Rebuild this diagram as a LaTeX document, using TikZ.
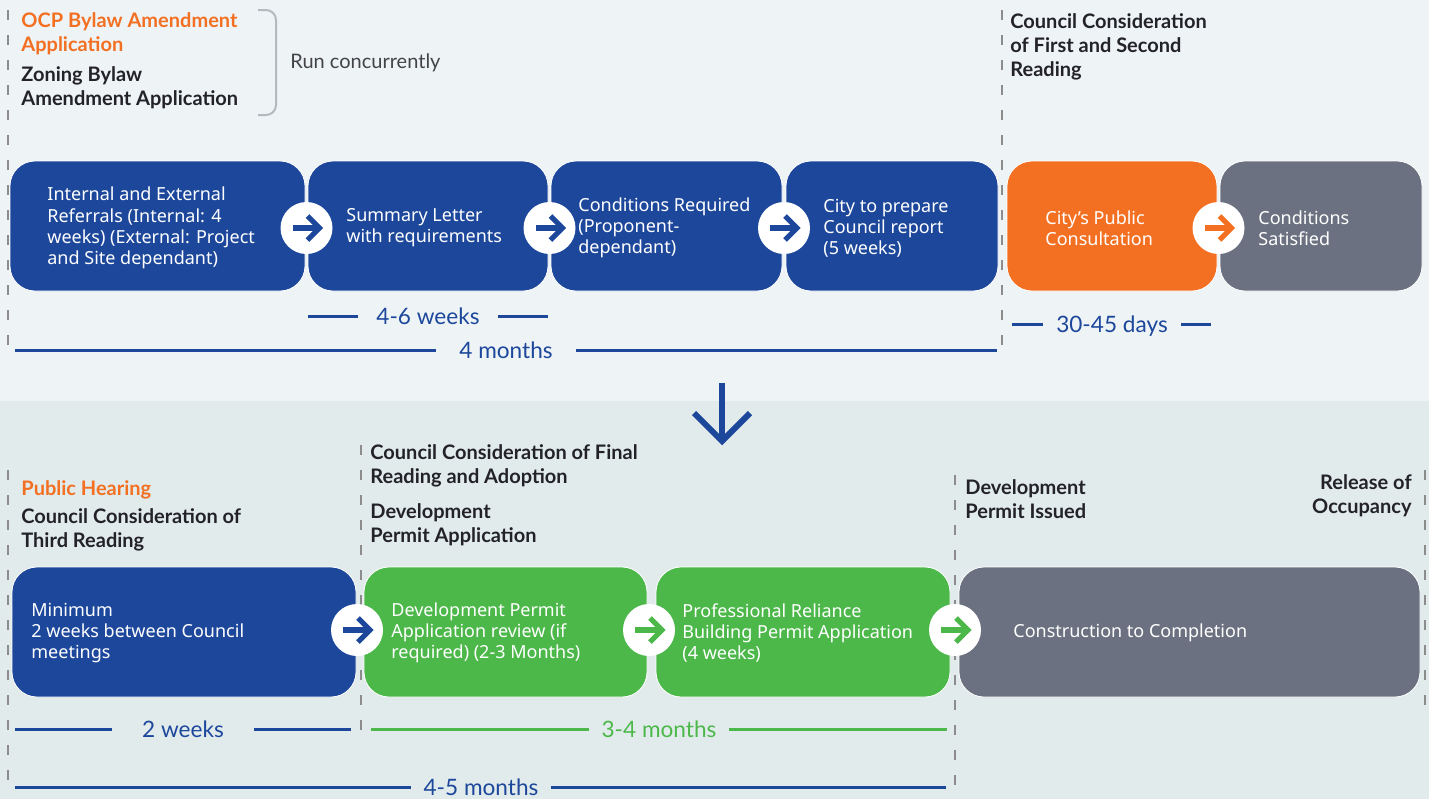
\documentclass[tikz,border=0pt]{standalone}
\usepackage{fontspec}
\setmainfont{Noto Sans}
\newfontfamily\headfont{Lato}
\usetikzlibrary{positioning}
\definecolor{planblue}{HTML}{1C479B}
\definecolor{planorange}{HTML}{F37022}
\definecolor{plangreen}{HTML}{4CB84A}
\definecolor{plangray}{HTML}{6B7180}
\definecolor{topbg}{HTML}{EEF3F6}
\definecolor{lowbg}{HTML}{E2EBEC}
\definecolor{headink}{HTML}{222228}
\definecolor{markgray}{HTML}{8C8C8C}
\definecolor{bracketgray}{HTML}{B4B9BE}

\tikzset{
  stage/.style={rounded corners=12.5pt, minimum height=65pt, inner sep=0pt, draw=white, line width=0.4pt},
  stagetext/.style={anchor=west, align=left, text=white, inner sep=0pt,
    font=\fontsize{9}{10.6}\selectfont},
  badge/.style={circle, fill=white, minimum size=26pt, inner sep=0pt,
    path picture={
      \draw[#1, line width=2.6pt]
        ([xshift=-7pt]path picture bounding box.center) -- ([xshift=5pt]path picture bounding box.center);
      \draw[#1, line width=2.6pt, line join=miter]
        ([xshift=0.5pt,yshift=6pt]path picture bounding box.center)
        -- ([xshift=6.5pt]path picture bounding box.center)
        -- ([xshift=0.5pt,yshift=-6pt]path picture bounding box.center);}},
  heading/.style={anchor=base west, align=left, inner sep=0pt, text=headink,
    font=\headfont\bfseries\fontsize{10}{12}\selectfont},
  span/.style={line width=1.5pt},
  spantext/.style={inner xsep=#1, inner ysep=0pt, text depth=0pt,
    font=\headfont\fontsize{11.3}{13}\selectfont},
  spantext/.default=8pt,
  milestone/.style={markgray, line width=1pt, dash pattern=on 5pt off 7.5pt},
}

\begin{document}
\begin{tikzpicture}[x=0.5pt, y=-0.5pt]
  \useasboundingbox (0,0) rectangle (1429,799);
  \fill[topbg] (0,0) rectangle (1429,401);
  \fill[lowbg] (0,401) rectangle (1429,799);

  % milestone markers
  \draw[milestone] (8,10) -- (8,352);
  \draw[milestone] (1002,10) -- (1002,357);
  \draw[milestone] (8,470) -- (8,795);
  \draw[milestone] (361,445) -- (361,735);
  \draw[milestone] (955,475) -- (955,790);
  \draw[milestone] (1425,470) -- (1425,705);

  % top row headings (base = last line)
  \node[heading, text=planorange] (ocp) at (21,51) {OCP Bylaw Amendment\\Application};
  \node[heading] (zoning) at (21,105) {Zoning Bylaw\\Amendment Application};
  \draw[bracketgray, line width=1pt, rounded corners=5pt] (258,10) -| (276,115) -- (258,115);
  \node[anchor=base west, inner sep=0pt, text=headink!85, font=\headfont\fontsize{10}{12}\selectfont]
    (concur) at (290,68) {Run concurrently};
  \node[heading] (firstsecond) at (1010,76) {Council Consideration\\of First and Second\\Reading};

  % top row stages
  \node[stage, fill=planblue, minimum width=147.5pt] (b1) at (157.5,226) {};
  \node[stage, fill=planblue, minimum width=120pt] (b2) at (428,226) {};
  \node[stage, fill=planblue, minimum width=115.5pt] (b3) at (666.5,226) {};
  \node[stage, fill=planblue, minimum width=106pt] (b4) at (892,226) {};
  \node[stage, fill=planorange, minimum width=105pt] (b5) at (1112,226) {};
  \node[stage, fill=plangray, minimum width=101pt] (b6) at (1321,226) {};

  \node[stagetext] (t1) at (47,228) {Internal and External\\Referrals (Internal: 4\\weeks) (External: Project\\and Site dependant)};
  \node[stagetext] (t2) at (346,228) {Summary Letter\\with requirements};
  \node[stagetext] (t3) at (578,228) {Conditions Required\\(Proponent-\\dependant)};
  \node[stagetext] (t4) at (823,228) {City to prepare\\Council report\\(5 weeks)};
  \node[stagetext] (t5) at (1045,228) {City’s Public\\Consultation};
  \node[stagetext] (t6) at (1258,228) {Conditions\\Satisfied};

  \node[badge=planblue] (g12) at (306.5,228) {};
  \node[badge=planblue] (g23) at (549.5,228) {};
  \node[badge=planblue] (g34) at (784,228) {};
  \node[badge=planorange] (g56) at (1218.5,228) {};

  % top row durations
  \node[spantext=9pt, text=planblue] (d46w) at (428,316) {4-6 weeks};
  \coordinate (d46wa) at (308,316);
  \coordinate (d46wb) at (548,316);
  \draw[span, planblue] (d46wa) -- (d46w.west) (d46w.east) -- (d46wb);

  \node[spantext=11.5pt, text=planblue] (d4m) at (506,350) {4 months};
  \coordinate (d4ma) at (15,350);
  \coordinate (d4mb) at (997,350);
  \draw[span, planblue] (d4ma) -- (d4m.west) (d4m.east) -- (d4mb);

  \node[spantext=6.5pt, text=planblue] (d3045) at (1112,324) {30-45 days};
  \coordinate (d3045a) at (1012,324);
  \coordinate (d3045b) at (1211,324);
  \draw[span, planblue] (d3045a) -- (d3045.west) (d3045.east) -- (d3045b);

  % down arrow
  \draw[planblue, line width=3pt] (722,383) -- (722,440);
  \draw[planblue, line width=3pt, line join=miter] (694,413) -- (722,441) -- (750,413);

  % bottom row headings
  \node[heading, text=planorange] (hearing) at (21,495) {Public Hearing};
  \node[heading] (third) at (21,547) {Council Consideration of\\Third Reading};
  \node[heading] (final) at (370,483) {Council Consideration of Final\\Reading and Adoption};
  \node[heading] (dpapp) at (370,542) {Development\\Permit Application};
  \node[heading] (dpissued) at (965,518) {Development\\Permit Issued};
  \node[heading, anchor=base east, align=right] (occupancy) at (1412,513) {Release of\\Occupancy};

  % bottom row stages
  \node[stage, fill=planblue, minimum width=172pt] (c1) at (184,632) {};
  \node[stage, fill=plangreen, minimum width=141.5pt] (c2) at (505.5,632) {};
  \node[stage, fill=plangreen, minimum width=147pt] (c3) at (803,632) {};
  \node[stage, fill=plangray, minimum width=230.5pt] (c4) at (1189.5,632) {};

  \node[stagetext] (s1) at (31,633) {Minimum\\2 weeks between Council\\meetings};
  \node[stagetext] (s2) at (391,633) {Development Permit\\Application review (if\\required) (2-3 Months)};
  \node[stagetext] (s3) at (682,633) {Professional Reliance\\Building Permit Application\\(4 weeks)};
  \node[stagetext] (s4) at (1013,633) {Construction to Completion};

  \node[badge=planblue] (h12) at (357,630) {};
  \node[badge=plangreen] (h23) at (649,630) {};
  \node[badge=plangreen] (h34) at (955,630) {};

  % bottom row durations
  \node[spantext=15pt, text=planblue] (d2w) at (183,729) {2 weeks};
  \coordinate (d2wa) at (15,729);
  \coordinate (d2wb) at (351,729);
  \draw[span, planblue] (d2wa) -- (d2w.west) (d2w.east) -- (d2wb);

  \node[spantext=6pt, text=plangreen] (d34m) at (659,729) {3-4 months};
  \coordinate (d34ma) at (371,729);
  \coordinate (d34mb) at (947,729);
  \draw[span, plangreen] (d34ma) -- (d34m.west) (d34m.east) -- (d34mb);

  \node[spantext=6pt, text=planblue] (d45m) at (481,787) {4-5 months};
  \coordinate (d45ma) at (15,787);
  \coordinate (d45mb) at (946,787);
  \draw[span, planblue] (d45ma) -- (d45m.west) (d45m.east) -- (d45mb);
\end{tikzpicture}
\end{document}
